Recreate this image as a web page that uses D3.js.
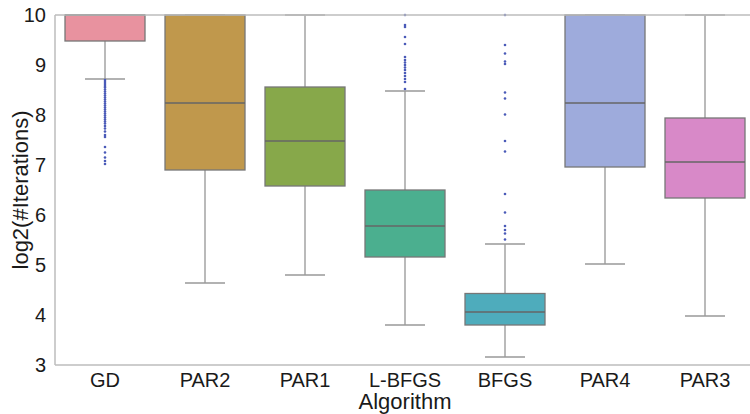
<!DOCTYPE html>
<html lang="en">
<head>
<meta charset="utf-8">
<script src="https://cdnjs.cloudflare.com/ajax/libs/d3/7.8.5/d3.min.js"></script>
<style>
  body { margin: 0; background: #fff; }
  text { font-family: "Liberation Sans", Arial, sans-serif; fill: #1a1a1a; }
</style>
</head>
<body>
<div id="chart"></div>
<script>
// categories and box statistics (log2 of iteration counts)
var algorithms = ['GD', 'PAR2', 'PAR1', 'L-BFGS', 'BFGS', 'PAR4', 'PAR3'];
var q1Values     = [9.48, 6.90, 6.58, 5.16, 3.80, 6.96, 6.34];
var medianValues = [10.0, 8.24, 7.48, 5.78, 4.06, 8.24, 7.06];
var q3Values     = [10.0, 10.0, 8.56, 6.50, 4.43, 10.0, 7.94];
var whiskerLow   = [8.72, 4.64, 4.80, 3.80, 3.16, 5.02, 3.98];
var whiskerHigh  = [10.0, 10.0, 10.0, 8.48, 5.42, 10.0, 10.0];
var boxColors = ['#e8929f', '#c0984c', '#87a84a', '#4baf8f', '#4eacbc', '#9eabdc', '#d889c8'];

// fliers per algorithm
var outliersGD = [8.70, 8.66, 8.62, 8.58, 8.55, 8.51, 8.47, 8.43, 8.39, 8.35, 8.31, 8.27,
                  8.23, 8.19, 8.15, 8.11, 8.07, 8.03, 7.99, 7.95, 7.91, 7.87, 7.83, 7.78,
                  7.73, 7.67, 7.60, 7.56, 7.36, 7.25, 7.15, 7.08, 7.02];
var outliersLBFGS = [10.0, 9.80, 9.76, 9.56, 9.42, 9.16, 9.10, 9.05, 9.00, 8.95, 8.90,
                     8.84, 8.78, 8.72, 8.66, 8.52];
var outliersBFGS = [10.0, 9.40, 9.23, 9.07, 9.02, 8.45, 8.33, 8.01, 7.48, 7.27, 6.42,
                    6.05, 5.78, 5.70, 5.63, 5.51];
var outliers = [outliersGD, [], [], outliersLBFGS, outliersBFGS, [], []];

var yTicks = [3, 4, 5, 6, 7, 8, 9, 10];

var width = 750, height = 414;
var plotLeft = 55, plotRight = 755, plotTop = 15, plotBottom = 365;

var svg = d3.select('#chart').append('svg')
  .attr('width', width)
  .attr('height', height);

var x = d3.scaleBand().domain(algorithms).range([plotLeft, plotRight]);
var y = d3.scaleLinear().domain([3, 10]).range([plotBottom, plotTop]);

var boxW = x.bandwidth() * 0.8;
var capW = boxW / 2;

var rows = algorithms.map(function(a, i) {
  return {name: a, q1: q1Values[i], med: medianValues[i], q3: q3Values[i],
          lo: whiskerLow[i], hi: whiskerHigh[i], color: boxColors[i], fl: outliers[i]};
});

var g = svg.selectAll('g.box').data(rows).enter().append('g').attr('class', 'box');
function cx(d) { return x(d.name) + x.bandwidth() / 2; }

// whiskers
g.append('line')
  .attr('x1', cx).attr('x2', cx)
  .attr('y1', function(d) { return y(d.q1); })
  .attr('y2', function(d) { return y(d.lo); })
  .attr('stroke', '#a3a3a3').attr('stroke-width', 1.5);
g.append('line')
  .attr('x1', cx).attr('x2', cx)
  .attr('y1', function(d) { return y(d.q3); })
  .attr('y2', function(d) { return y(d.hi); })
  .attr('stroke', '#a3a3a3').attr('stroke-width', 1.5);

// caps
g.append('line')
  .attr('x1', function(d) { return cx(d) - capW / 2; })
  .attr('x2', function(d) { return cx(d) + capW / 2; })
  .attr('y1', function(d) { return y(d.lo); })
  .attr('y2', function(d) { return y(d.lo); })
  .attr('stroke', '#999').attr('stroke-width', 1.5);
g.append('line')
  .attr('x1', function(d) { return cx(d) - capW / 2; })
  .attr('x2', function(d) { return cx(d) + capW / 2; })
  .attr('y1', function(d) { return y(d.hi); })
  .attr('y2', function(d) { return y(d.hi); })
  .attr('stroke', '#999').attr('stroke-width', 1.5);

// boxes
g.append('rect')
  .attr('x', function(d) { return cx(d) - boxW / 2; })
  .attr('y', function(d) { return y(d.q3); })
  .attr('width', boxW)
  .attr('height', function(d) { return y(d.q1) - y(d.q3); })
  .attr('fill', function(d) { return d.color; })
  .attr('stroke', '#777').attr('stroke-width', 1.3);

// medians
g.append('line')
  .attr('x1', function(d) { return cx(d) - boxW / 2; })
  .attr('x2', function(d) { return cx(d) + boxW / 2; })
  .attr('y1', function(d) { return y(d.med); })
  .attr('y2', function(d) { return y(d.med); })
  .attr('stroke', '#666').attr('stroke-width', 1.3);

// outliers
g.selectAll('circle')
  .data(function(d) { return d.fl.map(function(v) { return {name: d.name, v: v}; }); })
  .enter().append('circle')
  .attr('cx', cx)
  .attr('cy', function(d) { return y(d.v); })
  .attr('r', 1.3)
  .attr('fill', '#4a5ab8');

// axes
var yAxis = svg.append('g')
  .attr('transform', 'translate(' + plotLeft + ',0)')
  .call(d3.axisLeft(y).tickValues(yTicks).tickFormat(d3.format('d')).tickSize(0).tickPadding(9));
yAxis.select('.domain').remove();
yAxis.selectAll('text').style('font-size', '20px').style('font-family', '"Liberation Sans", Arial, sans-serif');

var xAxis = svg.append('g')
  .attr('transform', 'translate(0,' + plotBottom + ')')
  .call(d3.axisBottom(x).tickSize(0).tickPadding(8));
xAxis.select('.domain').remove();
xAxis.selectAll('text').style('font-size', '20px').style('font-family', '"Liberation Sans", Arial, sans-serif');

// spines
svg.append('line').attr('x1', plotLeft).attr('x2', plotRight).attr('y1', plotTop).attr('y2', plotTop)
  .attr('stroke', '#bdbdbd').attr('stroke-width', 1.5);
svg.append('line').attr('x1', plotLeft).attr('x2', plotRight).attr('y1', plotBottom).attr('y2', plotBottom)
  .attr('stroke', '#bdbdbd').attr('stroke-width', 1.5);
svg.append('line').attr('x1', plotLeft).attr('x2', plotLeft).attr('y1', plotTop).attr('y2', plotBottom)
  .attr('stroke', '#bdbdbd').attr('stroke-width', 1.5);

// axis labels
svg.append('text')
  .text('Algorithm')
  .attr('x', (plotLeft + plotRight) / 2)
  .attr('y', 409)
  .attr('text-anchor', 'middle')
  .style('font-size', '22px');

svg.append('text')
  .text('log2(#Iterations)')
  .attr('transform', 'translate(28,' + ((plotTop + plotBottom) / 2) + ') rotate(-90)')
  .attr('text-anchor', 'middle')
  .style('font-size', '22px');
</script>
</body>
</html>
